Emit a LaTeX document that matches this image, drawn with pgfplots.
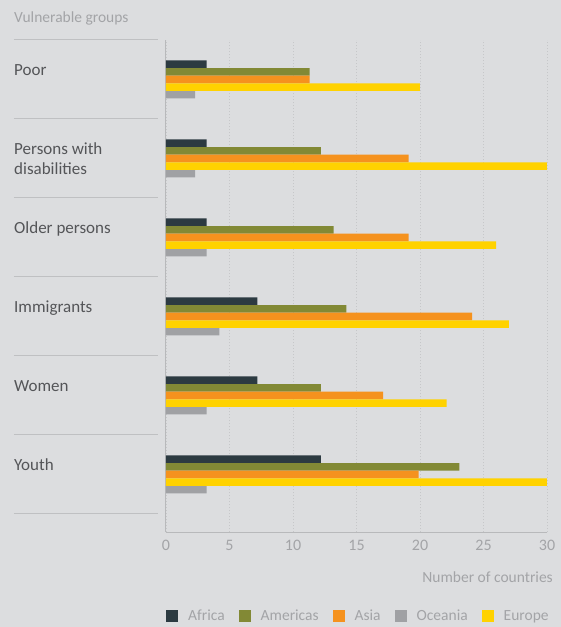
\documentclass[border=0pt]{standalone}
\usepackage{fontspec}
\setmainfont{Carlito}
\usepackage{pgfplots}
\pgfplotsset{compat=1.18}
\usepackage{pgfplotstable}
\definecolor{bgc}{HTML}{DCDDDF}
\definecolor{afc}{HTML}{2C3A41}
\definecolor{amc}{HTML}{828935}
\definecolor{asc}{HTML}{F5921E}
\definecolor{occ}{HTML}{A0A1A4}
\definecolor{euc}{HTML}{FFD200}
\definecolor{gridc}{HTML}{C6C7C9}
\definecolor{axc}{HTML}{B8B9BB}
\definecolor{sepc}{HTML}{BFC0C2}
\definecolor{labc}{HTML}{545558}
\definecolor{lightc}{HTML}{A3A4A7}

\pgfplotstableread{
y Africa Americas Asia Oceania Europe
5 3.2 11.3 11.3 2.3 20.0
4 3.2 12.2 19.1 2.3 30.0
3 3.2 13.2 19.1 3.2 26.0
2 7.2 14.2 24.1 4.2 27.0
1 7.2 12.2 17.1 3.2 22.1
0 12.2 23.1 19.9 3.2 30.0
}\data

\pgfplotsset{sqleg/.style={legend image code/.code={\fill[##1] (0bp,-6bp) rectangle (12bp,6bp);}}}

\begin{document}
\begin{tikzpicture}
\fill[bgc] (-166bp,-95bp) rectangle (395bp,532bp);
\path[use as bounding box] (-166bp,-95bp) rectangle (395bp,532bp);
\begin{axis}[
  at={(0,0)}, anchor=south west,
  scale only axis, width=381bp, height=492bp,
  xmin=0, xmax=30, ymin=-0.728, ymax=5.5,
  xbar, bar width=7.6bp,
  axis x line*=bottom, axis y line*=left,
  axis line style={-, color=axc, line width=1bp},
  xtick={0,5,...,30}, ytick=\empty,
  major tick length=0pt,
  xmajorgrids, major grid style={dash pattern=on 1.5bp off 1.5bp, color=gridc, line width=0.9bp},
  /pgf/number format/assume math mode=true,
  tick label style={font=\fontsize{16bp}{18bp}\selectfont, text=lightc},
  xticklabel style={yshift=-5bp},
  clip=false,
  legend columns=5,
  legend style={at={(axis description cs:0,-0.171)}, anchor=west, draw=none, fill=none,
    inner sep=0pt, font=\fontsize{15.5bp}{18bp}\selectfont, text=lightc,
    nodes={inner sep=0pt},
    /tikz/every odd column/.append style={column sep=10bp},
    /tikz/every even column/.append style={column sep=14bp}},
]
\addplot[fill=afc, draw=none, bar shift=15.2bp, sqleg] table[x=Africa, y=y] {\data};
\addlegendentry{Africa}
\addplot[fill=amc, draw=none, bar shift=7.6bp, sqleg] table[x=Americas, y=y] {\data};
\addlegendentry{Americas}
\addplot[fill=asc, draw=none, bar shift=0bp, sqleg] table[x=Asia, y=y] {\data};
\addlegendentry{Asia}
\addplot[fill=occ, draw=none, bar shift=-15.2bp, sqleg] table[x=Oceania, y=y] {\data};
\addlegendentry{Oceania}
\addplot[fill=euc, draw=none, bar shift=-7.6bp, sqleg] table[x=Europe, y=y] {\data};
\addlegendentry{Europe}

\pgfplotsinvokeforeach{5.5,4.5,3.5,2.5,1.5,0.5,-0.5}{
  \draw[sepc, line width=1bp] ([xshift=-152bp]axis cs:0,#1) -- ([xshift=-8bp]axis cs:0,#1);
}
\begin{scope}[every node/.style={anchor=base west, inner sep=0pt, text=labc, font=\fontsize{17bp}{20bp}\selectfont}]
\node at ([xshift=-152bp, yshift=-36bp]axis cs:0,5.5) {Poor};
\node at ([xshift=-152bp, yshift=-36bp]axis cs:0,4.5) {Persons with};
\node at ([xshift=-152bp, yshift=-56bp]axis cs:0,4.5) {disabilities};
\node at ([xshift=-152bp, yshift=-36bp]axis cs:0,3.5) {Older persons};
\node at ([xshift=-152bp, yshift=-36bp]axis cs:0,2.5) {Immigrants};
\node at ([xshift=-152bp, yshift=-36bp]axis cs:0,1.5) {Women};
\node at ([xshift=-152bp, yshift=-36bp]axis cs:0,0.5) {Youth};
\end{scope}
\node[anchor=base west, inner sep=0pt, text=lightc, font=\fontsize{15.5bp}{18bp}\selectfont]
  at ([xshift=-152bp, yshift=17bp]rel axis cs:0,1) {Vulnerable groups};
\node[anchor=base east, inner sep=0pt, text=lightc, font=\fontsize{15.5bp}{18bp}\selectfont]
  at ([xshift=6bp, yshift=-50bp]rel axis cs:1,0) {Number of countries};
\end{axis}
\end{tikzpicture}
\end{document}
